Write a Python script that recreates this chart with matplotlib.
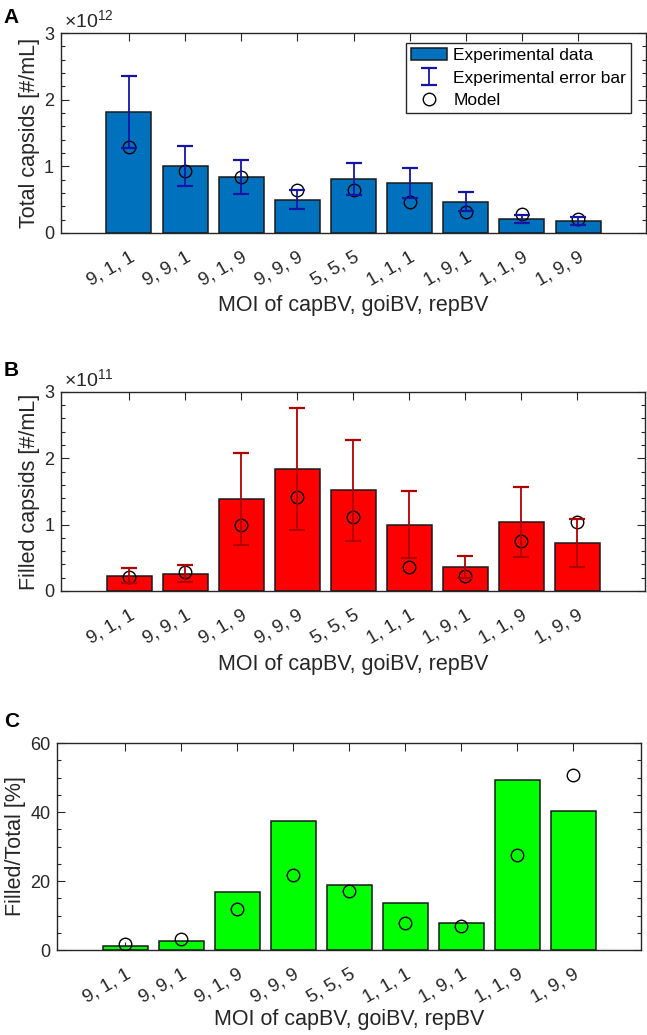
import numpy as np
import matplotlib
matplotlib.use('Agg')
import matplotlib.pyplot as plt
import matplotlib.transforms as mtransforms
from matplotlib.ticker import MultipleLocator

plt.rcParams['font.family'] = ['Liberation Sans', 'DejaVu Sans']
plt.rcParams['mathtext.default'] = 'regular'

# MOI combinations (capBV, goiBV, repBV)
moi_labels = ['9, 1, 1', '9, 9, 1', '9, 1, 9', '9, 9, 9', '5, 5, 5',
              '1, 1, 1', '1, 9, 1', '1, 1, 9', '1, 9, 9']

# total capsids, x1e12 #/mL
total_exp = [1.81, 1.01, 0.84, 0.50, 0.81, 0.75, 0.47, 0.21, 0.18]
total_err = [0.54, 0.30, 0.25, 0.145, 0.245, 0.22, 0.14, 0.06, 0.055]
total_model = [1.29, 0.93, 0.84, 0.65, 0.64, 0.46, 0.32, 0.285, 0.21]

# filled capsids, x1e11 #/mL
filled_exp = [0.23, 0.26, 1.39, 1.84, 1.52, 1.00, 0.36, 1.04, 0.72]
filled_err = [0.11, 0.13, 0.69, 0.92, 0.76, 0.50, 0.17, 0.53, 0.365]
filled_model = [0.21, 0.28, 1.00, 1.41, 1.11, 0.36, 0.22, 0.76, 1.04]

# filled / total, %
ratio_exp = [1.3, 2.6, 16.7, 37.5, 18.9, 13.6, 7.8, 49.2, 40.4]
ratio_model = [1.7, 3.1, 11.9, 21.7, 17.1, 7.9, 7.0, 27.4, 50.7]

txt = '#262626'
x = np.arange(1, len(moi_labels) + 1)

fig = plt.figure(figsize=(6.47, 10.35), dpi=100)
axA = fig.add_axes([0.0943, 0.7749, 0.9042, 0.1932])
axB = fig.add_axes([0.0949, 0.4290, 0.9020, 0.1923])
axC = fig.add_axes([0.0886, 0.0821, 0.9022, 0.2000])


def style(ax, ymax, major, minor, ylabel, xpad=4):
    ax.set_xlim(-0.21, 10.21)
    ax.set_ylim(0, ymax)
    ax.yaxis.set_major_locator(MultipleLocator(major))
    ax.yaxis.set_minor_locator(MultipleLocator(minor))
    ax.set_xticks(x)
    ax.set_xticklabels(moi_labels, rotation=30, ha='right',
                       rotation_mode='anchor', fontsize=13.5, color=txt)
    shift = mtransforms.ScaledTranslation(5 / 100, 0, fig.dpi_scale_trans)
    for t in ax.get_xticklabels():
        t.set_transform(t.get_transform() + shift)
    ax.tick_params(axis='both', which='both', direction='in', top=True,
                   right=True, colors=txt)
    ax.tick_params(axis='y', labelsize=13)
    ax.tick_params(axis='both', which='major', length=6, width=0.8)
    ax.tick_params(axis='y', which='minor', length=3, width=0.8)
    ax.tick_params(axis='y', pad=5)
    ax.tick_params(axis='x', pad=11)
    for s in ax.spines.values():
        s.set_color(txt)
        s.set_linewidth(1.0)
    ax.set_ylabel(ylabel, fontsize=15.5, color=txt, labelpad=3)
    ax.set_xlabel('MOI of capBV, goiBV, repBV', fontsize=15.5, color=txt,
                  labelpad=xpad)


# A: total capsids
b = axA.bar(x, total_exp, width=0.8, color='#0072BD', edgecolor='#1a1a1a',
            linewidth=1.1, label='Experimental data', zorder=2)
e = axA.errorbar(x, total_exp, yerr=total_err, fmt='none', ecolor='#1515A5',
                 elinewidth=1.3, capsize=6, capthick=1.6,
                 label='Experimental error bar', zorder=4)
m, = axA.plot(x, total_model, 'o', mfc='none', mec='black', ms=9, mew=1.0,
              label='Model', zorder=3)
style(axA, 3, 1, 0.2, 'Total capsids [#/mL]', xpad=4)
axA.text(0.005, 1.01, '×10$^{12}$', transform=axA.transAxes,
         fontsize=14, color=txt, ha='left', va='bottom')
leg = axA.legend(handles=[b, e, m], loc='upper right',
                 bbox_to_anchor=(0.975, 0.95), fontsize=12.5,
                 fancybox=False, framealpha=1, edgecolor=txt,
                 borderaxespad=0, handlelength=2.1, handletextpad=0.35,
                 labelspacing=0.42, borderpad=0.3)
leg.get_frame().set_linewidth(1.0)

# B: filled capsids
axB.bar(x, filled_exp, width=0.8, color='#FF0000', edgecolor='#1a1a1a',
        linewidth=1.1, zorder=2)
axB.errorbar(x, filled_exp, yerr=filled_err, fmt='none', ecolor='#B00000',
             elinewidth=1.3, capsize=6, capthick=1.6, zorder=4)
axB.plot(x, filled_model, 'o', mfc='none', mec='black', ms=9, mew=1.0,
         zorder=3)
style(axB, 3, 1, 0.2, 'Filled capsids [#/mL]', xpad=5)
axB.text(0.005, 1.01, '×10$^{11}$', transform=axB.transAxes,
         fontsize=14, color=txt, ha='left', va='bottom')

# C: filled / total
axC.bar(x, ratio_exp, width=0.8, color='#00FF00', edgecolor='#1a1a1a',
        linewidth=1.1, zorder=2)
axC.plot(x, ratio_model, 'o', mfc='none', mec='black', ms=9, mew=1.0,
         zorder=3)
style(axC, 60, 20, 5, 'Filled/Total [%]', xpad=2)

for lab, yy in [('A', 0.992), ('B', 0.651), ('C', 0.312)]:
    fig.text(0.006, yy, lab, fontsize=15, fontweight='bold', color='black',
             ha='left', va='top')

fig.savefig('out.png', dpi=100)
